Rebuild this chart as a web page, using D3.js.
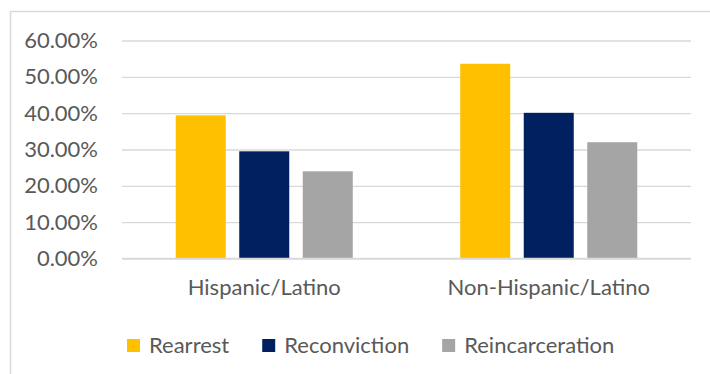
<!DOCTYPE html>
<html>
<head>
<meta charset="utf-8">
<script src="https://cdn.jsdelivr.net/npm/d3@7"></script>
<style>
    body { margin: 0; background: #fff; }
    svg { display: block; font-family: Lato, "Open Sans", sans-serif; }
</style>
</head>
<body>
<div id="chart"></div>
<script>
// data
const categories = ["Hispanic/Latino", "Non-Hispanic/Latino"]
const seriesNames = ["Rearrest", "Reconviction", "Reincarceration"]
const seriesColors = ["#ffc000", "#002060", "#a5a5a5"]
const rearrest = [0.394, 0.536]
const reconviction = [0.295, 0.401]
const reincarceration = [0.240, 0.320]
const yTicks = [0, 0.1, 0.2, 0.3, 0.4, 0.5, 0.6]

const seriesValues = [rearrest, reconviction, reincarceration]
const rows = []
categories.forEach((c, ci) => {
    seriesNames.forEach((s, si) => {
        rows.push({category: c, series: s, value: seriesValues[si][ci]})
    })
})

//dimensions
let dimensions = {
    width: 710,
    height: 374,
    margin: {top: 40.5, right: 19, bottom: 115.5, left: 122},
}
const textColor = "#595959"
const gridColor = "#d9d9d9"
const fontSize = 22

//canvas
const svg = d3.select("#chart")
    .append("svg")
    .attr("width", dimensions.width)
    .attr("height", dimensions.height)

// chart area border (cropped on the right and bottom)
svg.append("rect")
    .attr("x", 10.5)
    .attr("y", 11.5)
    .attr("width", 760)
    .attr("height", 420)
    .attr("fill", "none")
    .attr("stroke", gridColor)
    .attr("stroke-width", 1.5)

//scales
const x0 = d3.scaleBand()
    .domain(categories)
    .range([dimensions.margin.left, dimensions.width - dimensions.margin.right])
const x1 = d3.scaleBand()
    .domain(seriesNames)
    .range([0, x0.bandwidth()])
    .paddingInner(0.2126)
    .paddingOuter(0.846)
const yScale = d3.scaleLinear()
    .domain([0, 0.6])
    .range([dimensions.height - dimensions.margin.bottom, dimensions.margin.top])
const color = d3.scaleOrdinal().domain(seriesNames).range(seriesColors)

// y axis + gridlines
const yAxis = svg.append("g")
    .attr("transform", "translate(" + dimensions.margin.left + ",0)")
    .call(d3.axisLeft(yScale)
        .tickValues(yTicks)
        .tickSize(-(dimensions.width - dimensions.margin.left - dimensions.margin.right))
        .tickPadding(24)
        .tickFormat(d3.format(".2%")))
yAxis.select(".domain").remove()
yAxis.selectAll(".tick line")
    .attr("stroke", gridColor)
    .attr("stroke-width", 1.3)
yAxis.selectAll(".tick text")
    .attr("fill", textColor)
    .attr("font-size", fontSize)
    .attr("font-family", "Lato, sans-serif")

// bars
svg.append("g")
    .selectAll("rect")
    .data(rows)
    .join("rect")
    .attr("x", d => x0(d.category) + x1(d.series))
    .attr("y", d => yScale(d.value))
    .attr("width", x1.bandwidth())
    .attr("height", d => yScale(0) - yScale(d.value))
    .attr("fill", d => color(d.series))

// x axis line on top of bars
svg.append("line")
    .attr("x1", x0.range()[0])
    .attr("x2", x0.range()[1])
    .attr("y1", yScale(0))
    .attr("y2", yScale(0))
    .attr("stroke", gridColor)
    .attr("stroke-width", 1.3)

// category labels
const xAxis = svg.append("g")
    .attr("transform", "translate(0," + yScale(0) + ")")
    .call(d3.axisBottom(x0).tickSize(0).tickPadding(21))
xAxis.select(".domain").remove()
xAxis.selectAll(".tick text")
    .attr("fill", textColor)
    .attr("font-size", fontSize)
    .attr("font-family", "Lato, sans-serif")

// legend
const legend = svg.append("g")
let legendX = 127
seriesNames.forEach((s) => {
    const item = legend.append("g").attr("transform", "translate(" + legendX + ",0)")
    item.append("rect")
        .attr("x", 0)
        .attr("y", 339)
        .attr("width", 13)
        .attr("height", 13)
        .attr("fill", color(s))
    const t = item.append("text")
        .attr("x", 22)
        .attr("y", 353)
        .attr("fill", textColor)
        .attr("font-size", fontSize)
        .text(s)
    legendX += 22 + t.node().getComputedTextLength() + 33
})
</script>
</body>
</html>
